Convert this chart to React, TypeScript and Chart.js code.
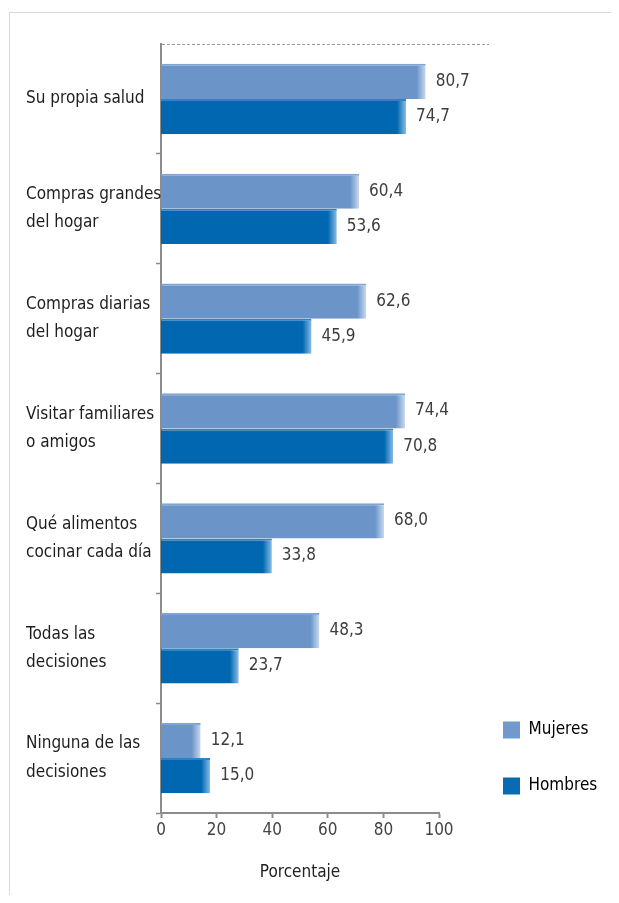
import React, { useEffect, useRef } from 'react';
import { Chart, registerables } from 'chart.js';

Chart.register(...registerables);

// ---------- data ----------
const categories: string[][] = [
  ['Su propia salud'],
  ['Compras grandes', 'del hogar'],
  ['Compras diarias', 'del hogar'],
  ['Visitar familiares', 'o amigos'],
  ['Qué alimentos', 'cocinar cada día'],
  ['Todas las', 'decisiones'],
  ['Ninguna de las', 'decisiones'],
];
const seriesNames = ['Mujeres', 'Hombres'];
const mujeres = [80.7, 60.4, 62.6, 74.4, 68.0, 48.3, 12.1];
const hombres = [74.7, 53.6, 45.9, 70.8, 33.8, 23.7, 15.0];
const axisTicks = [0, 20, 40, 60, 80, 100];
const axisTitle = 'Porcentaje';

// ---------- styles ----------
const FONT = '"DejaVu Sans Condensed", "Liberation Sans Narrow", sans-serif';
const FS = 17;
const AXIS_GREY = '#8c8c8c';
const seriesStyles = [
  { base: '#6b95c9', top: '#82a6d4', end: '#c9daef', legend: '#7099cc' },
  { base: '#0067b0', top: '#2f82c4', end: '#8bbde4', legend: '#0a6ab2' },
];
const CANVAS_W = 609;
const CANVAS_H = 882;
const VISIBLE_AXIS_SPAN = 278 / 328; // drawn axis covers this share of the plot width
const LEGEND_PAD = 39;
const LEGEND_ITEM_X = 493;
const LEGEND_ITEM_TOP = 708.5;

const barFill = (s: { base: string; end: string }) => (ctx: any) => {
  const chart = ctx.chart;
  const xs = chart.scales && chart.scales.x;
  if (!chart.chartArea || !xs || ctx.raw == null) return s.base;
  const x0 = xs.getPixelForValue(0);
  const x1 = xs.getPixelForValue(ctx.raw);
  const len = Math.max(1, x1 - x0);
  const g = chart.ctx.createLinearGradient(x0, 0, x1, 0);
  const fade = Math.min(0.5, 9 / len);
  g.addColorStop(0, s.base);
  g.addColorStop(1 - fade, s.base);
  g.addColorStop(1, s.end);
  return g;
};

const fmt = (v: number) => v.toFixed(1).replace('.', ',');

const valueLabels = {
  id: 'valueLabels',
  afterDatasetsDraw(chart: any) {
    const { ctx } = chart;
    ctx.save();
    ctx.font = `${FS}px ${FONT}`;
    ctx.fillStyle = '#3d3d3d';
    ctx.textBaseline = 'middle';
    ctx.textAlign = 'left';
    chart.data.datasets.forEach((ds: any, di: number) => {
      const meta = chart.getDatasetMeta(di);
      meta.data.forEach((bar: any, i: number) => {
        ctx.fillText(fmt(ds.data[i]), bar.x + 10, bar.y);
      });
    });
    ctx.restore();
  },
};

const layoutTweaks = {
  id: 'layoutTweaks',
  afterLayout(chart: any) {
    const s = chart.scales.x2;
    if (s) {
      const w = s.width * VISIBLE_AXIS_SPAN;
      s.right = s.left + w;
      s.width = w;
      s.configure();
    }
    const lg = chart.legend;
    if (lg) {
      lg.left = LEGEND_ITEM_X - LEGEND_PAD;
      lg.right = CANVAS_W;
      lg.top = LEGEND_ITEM_TOP - LEGEND_PAD;
      lg.bottom = lg.top + lg.height;
    }
  },
};

export default function App() {
  const ref = useRef<HTMLCanvasElement>(null);

  useEffect(() => {
    if (!ref.current) return;
    const chart = new Chart(ref.current, {
      type: 'bar',
      data: {
        labels: categories,
        datasets: [mujeres, hombres].map((d, i) => ({
          label: seriesNames[i],
          data: d,
          xAxisID: 'x',
          backgroundColor: barFill(seriesStyles[i]),
          borderColor: seriesStyles[i].top,
          borderWidth: { top: 2, right: 0, bottom: 0, left: 0 },
          borderSkipped: false,
          categoryPercentage: 0.64,
          barPercentage: 1.0,
        })),
      },
      options: {
        indexAxis: 'y',
        responsive: false,
        animation: false,
        devicePixelRatio: 1,
        events: [],
        layout: { padding: { left: 16, top: 28, right: 0, bottom: 0 } },
        scales: {
          x: { type: 'linear', min: 0, max: 100, display: false },
          x2: {
            type: 'linear',
            position: 'bottom',
            min: 0,
            max: 100,
            afterBuildTicks: (s: any) => {
              s.ticks = axisTicks.map((v) => ({ value: v }));
            },
            afterFit: (s: any) => {
              s.height = CANVAS_H - 28 - 772;
            },
            ticks: {
              color: '#444',
              padding: 2,
              font: { family: FONT, size: FS, lineHeight: 1.2 },
            },
            grid: {
              drawOnChartArea: false,
              drawTicks: true,
              tickLength: 5,
              tickColor: AXIS_GREY,
              tickWidth: 2,
            },
            border: { display: true, color: AXIS_GREY, width: 2 },
            title: {
              display: true,
              text: axisTitle,
              color: '#222',
              font: { family: FONT, size: FS, lineHeight: 1.2 },
              padding: { top: 0, bottom: 12 },
            },
          },
          y: {
            type: 'category',
            afterFit: (s: any) => {
              s.width = 135;
            },
            ticks: {
              crossAlign: 'far',
              color: '#1e1e1e',
              autoSkip: false,
              font: { family: FONT, size: FS, lineHeight: 1.65 },
            },
            grid: {
              offset: true,
              drawOnChartArea: true,
              lineWidth: 1,
              color: (c: any) => (c.index === 0 ? '#9a9a9a' : 'rgba(0,0,0,0)'),
              tickColor: (c: any) => (c.index === 0 ? 'rgba(0,0,0,0)' : AXIS_GREY),
              tickLength: 5,
              tickWidth: 1.5,
              tickBorderDash: [],
            },
            border: { display: true, color: AXIS_GREY, width: 2, dash: [3, 2] },
          },
        },
        plugins: {
          tooltip: { enabled: false },
          legend: {
            position: 'right',
            align: 'start',
            fullSize: false,
            maxWidth: 130,
            labels: {
              boxWidth: 17,
              boxHeight: 17,
              padding: LEGEND_PAD,
              color: '#555',
              font: { family: FONT, size: FS },
              generateLabels: () =>
                seriesNames.map((n, i) => ({
                  text: n,
                  fillStyle: seriesStyles[i].legend,
                  strokeStyle: 'rgba(0,0,0,0)',
                  lineWidth: 0,
                  hidden: false,
                  datasetIndex: i,
                })),
            },
          },
        },
      },
      plugins: [layoutTweaks, valueLabels],
    } as any);
    return () => chart.destroy();
  }, []);

  return (
    <div style={{ paddingTop: 4, paddingLeft: 1 }}>
      <div
        style={{
          borderTop: '1px solid #d9d9d9',
          borderLeft: '1px solid #d9d9d9',
          width: CANVAS_W,
          height: CANVAS_H,
        }}
      >
        <canvas
          ref={ref}
          width={CANVAS_W}
          height={CANVAS_H}
          style={{ display: 'block', width: CANVAS_W, height: CANVAS_H }}
        />
      </div>
    </div>
  );
}
